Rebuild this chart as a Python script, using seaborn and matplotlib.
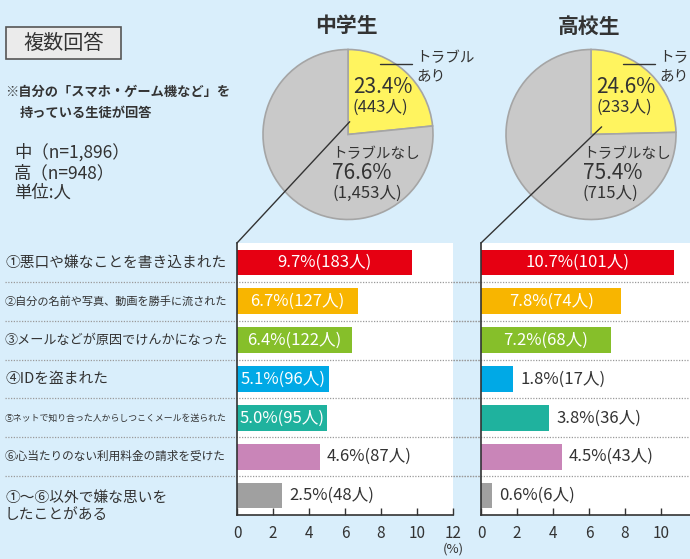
import numpy as np
import matplotlib
matplotlib.use("Agg")
import matplotlib.pyplot as plt
import seaborn as sns
from matplotlib.patches import Rectangle, ConnectionPatch
from matplotlib.lines import Line2D
from matplotlib.transforms import blended_transform_factory

# data
cats = ["①悪口や嫌なことを書き込まれた",
        "②自分の名前や写真、動画を勝手に流された",
        "③メールなどが原因でけんかになった",
        "④IDを盗まれた",
        "⑤ネットで知り合った人からしつこくメールを送られた",
        "⑥心当たりのない利用料金の請求を受けた",
        "①〜⑥以外で嫌な思いを\nしたことがある"]
pct_jh = [9.7, 6.7, 6.4, 5.1, 5.0, 4.6, 2.5]
cnt_jh = [183, 127, 122, 96, 95, 87, 48]
pct_hs = [10.7, 7.8, 7.2, 1.8, 3.8, 4.5, 0.6]
cnt_hs = [101, 74, 68, 17, 36, 43, 6]
bar_colors = ["#e60012", "#f8b500", "#86bf2a", "#00a9e6", "#1fb29e", "#c985b8", "#a0a0a0"]

pie_titles = ["中学生", "高校生"]
pie_pct = [[23.4, 76.6], [24.6, 75.4]]
pie_cnt = [[443, 1453], [233, 715]]
pie_colors = ["#fff45f", "#c9c9c9"]
xticks = [0, 2, 4, 6, 8, 10, 12]

bg = "#d9eefb"
dark = "#333333"

sns.set_style("white")
plt.rcParams["font.family"] = ["Noto Sans CJK JP", "DejaVu Sans"]

W, H = 690, 559
fig = plt.figure(figsize=(W / 100, H / 100), dpi=100, facecolor=bg)


def fx(px):
    return px / W


def fy(py):
    return 1 - py / H


# left notes
fig.add_artist(Rectangle((fx(6), fy(59)), 115 / W, 32 / H, transform=fig.transFigure,
                         facecolor="#ebebeb", edgecolor="#555555", lw=1.2))
fig.text(fx(63.5), fy(43), "複数回答", ha="center", va="center", fontsize=14.5, color=dark)
fig.text(fx(5), fy(92), "※自分の「スマホ・ゲーム機など」を", ha="left", va="center",
         fontsize=9.5, fontweight="bold", color=dark)
fig.text(fx(20), fy(113), "持っている生徒が回答", ha="left", va="center",
         fontsize=9.5, fontweight="bold", color=dark)
fig.text(fx(14), fy(152), "中（n=1,896）", ha="left", va="center", fontsize=12.5, color=dark)
fig.text(fx(14), fy(173), "高（n=948）", ha="left", va="center", fontsize=12.5, color=dark)
fig.text(fx(14), fy(193), "単位:人", ha="left", va="center", fontsize=12.5, color=dark)

# bar axes
bar_axes = []
for k, (left, pcts, cnts) in enumerate([(237, pct_jh, cnt_jh), (481, pct_hs, cnt_hs)]):
    ax = fig.add_axes([fx(left), fy(515), 216 / W, 272 / H])
    ax.set_facecolor("white")
    sns.barplot(x=pcts, y=list(range(len(cats))), hue=list(range(len(cats))),
                palette=bar_colors, legend=False, orient="h", width=0.66,
                saturation=1, linewidth=0, ax=ax)
    ax.set_xlim(0, 12)
    ax.set_ylim(len(cats) - 0.5, -0.5)
    ax.set_xticks(xticks)
    ax.set_yticks([])
    ax.set_xlabel("")
    ax.set_ylabel("")
    ax.tick_params(axis="x", direction="in", length=5, width=1, color=dark,
                   labelsize=11, labelcolor=dark, pad=7, bottom=True)
    for s in ["top", "right"]:
        ax.spines[s].set_visible(False)
    for s in ["left", "bottom"]:
        ax.spines[s].set_color(dark)
        ax.spines[s].set_linewidth(1.2)
    x0 = (5 - left) / 216 if k == 0 else (453 - left) / 216
    x1 = (690 - left) / 216
    for i in range(len(cats) - 1):
        ax.axhline(i + 0.5, xmin=x0, xmax=x1, clip_on=False, color="#9a9a9a",
                   lw=0.9, ls=(0, (1, 1.2)), zorder=0.5)
    for i, (v, n) in enumerate(zip(pcts, cnts)):
        lab = f"{v}%({n}人)"
        if v >= 5:
            ax.text(v / 2, i, lab, ha="center", va="center", color="white", fontsize=12)
        else:
            ax.text(v + 0.38, i, lab, ha="left", va="center", color=dark, fontsize=12)
    bar_axes.append(ax)

ax1 = bar_axes[0]
ax1.text(12, -0.1, "(%)", transform=blended_transform_factory(ax1.transData, ax1.transAxes),
         ha="center", va="top", fontsize=9.5, color=dark)

# category labels
tr = blended_transform_factory(fig.transFigure, ax1.transData)
for i, c in enumerate(cats):
    first = c.split("\n")[0]
    size = min(10.6, 160 / len(first))
    if "\n" in c:
        ax1.text(fx(5), i + 0.29, c, transform=tr, ha="left", va="center",
                 fontsize=10.6, color=dark, linespacing=1.3, clip_on=False)
    else:
        ax1.text(fx(5), i, c, transform=tr, ha="left", va="center",
                 fontsize=size, color=dark, clip_on=False)

# pies
pie_cx = [348, 591]
starts = [(0.02, 0.15), (0.125, 0.09)]
R = 85 * 1.25
for k in range(2):
    cx, cy = pie_cx[k], 134.5
    pax = fig.add_axes([fx(cx - R), fy(cy + R), 2 * R / W, 2 * R / H])
    pax.pie(pie_pct[k], colors=pie_colors, startangle=90, counterclock=False,
            wedgeprops=dict(edgecolor="#a5a5a5", linewidth=1.2))
    pax.set_xlim(-1.25, 1.25)
    pax.set_ylim(-1.25, 1.25)
    pax.set_aspect("equal")
    pax.axis("off")
    fig.text(fx(cx - 2), fy(26), pie_titles[k], ha="center", va="center",
             fontsize=15, fontweight="bold", color=dark)
    tx = cx + 5
    fig.text(fx(tx), fy(87), f"{pie_pct[k][0]}%", ha="left", va="center", fontsize=15, color=dark)
    fig.text(fx(tx), fy(107.5), f"({pie_cnt[k][0]:,}人)", ha="left", va="center",
             fontsize=12, color=dark)
    nx = cx - 16 if k == 0 else cx - 8
    fig.text(fx(nx), fy(154), "トラブルなし", ha="left", va="center", fontsize=10.5, color=dark)
    fig.text(fx(nx), fy(173), f"{pie_pct[k][1]}%", ha="left", va="center", fontsize=15, color=dark)
    fig.text(fx(nx), fy(193.5), f"({pie_cnt[k][1]:,}人)", ha="left", va="center",
             fontsize=12, color=dark)
    fig.add_artist(Line2D([fx(cx + 32), fx(cx + 64)], [fy(64), fy(64)],
                          transform=fig.transFigure, color=dark, lw=1))
    fig.text(fx(cx + 68), fy(58), "トラブル", ha="left", va="center", fontsize=10.5, color=dark)
    fig.text(fx(cx + 68), fy(76), "あり", ha="left", va="center", fontsize=10.5, color=dark)
    con = ConnectionPatch(xyA=starts[k], coordsA=pax.transData, xyB=(0, 1),
                          coordsB=bar_axes[k].transAxes, color=dark, lw=1)
    fig.add_artist(con)

fig.savefig("out.png", dpi=100, facecolor=bg)
